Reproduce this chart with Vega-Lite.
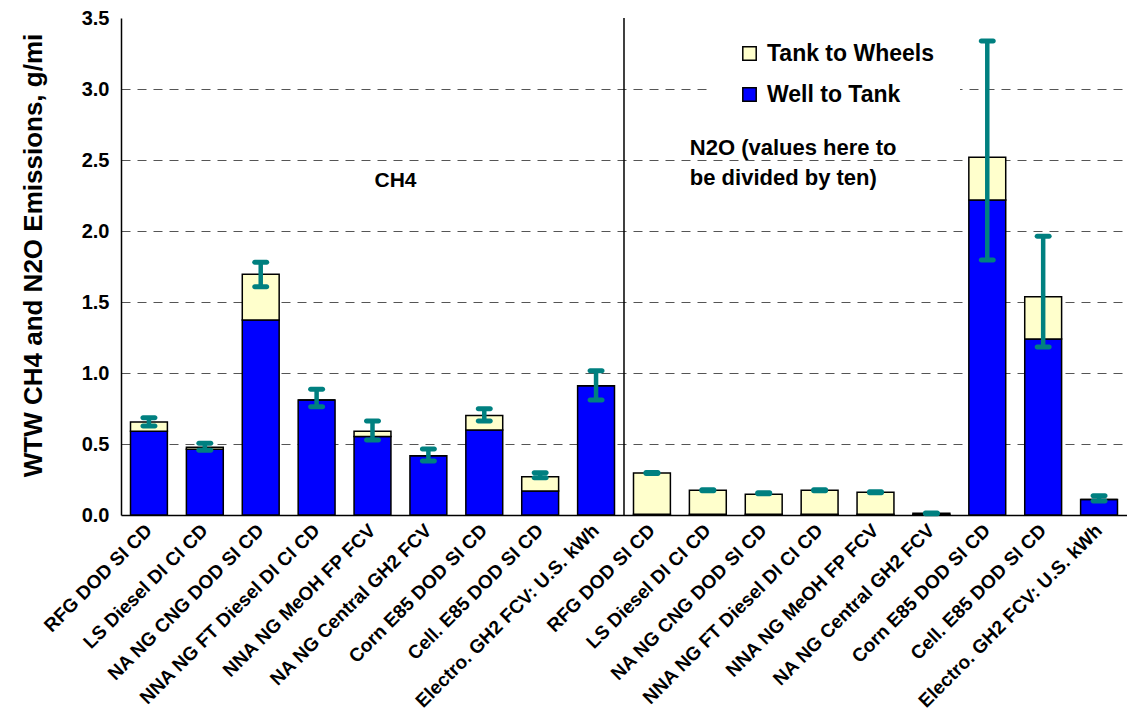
{
  "$schema": "https://vega.github.io/schema/vega-lite/v6.json",
  "width": 1006,
  "height": 497,
  "autosize": {"type": "none"},
  "padding": {"left": 121, "top": 18, "right": 0, "bottom": 206},
  "background": "white",
  "config": {
    "font": "Liberation Sans",
    "view": {"stroke": null}
  },
  "data": {
    "values": [
      {"key": "CH4|RFG DOD SI CD", "wtt": 0.59, "total": 0.655, "lo": 0.627, "hi": 0.685},
      {"key": "CH4|LS Diesel DI CI CD", "wtt": 0.463, "total": 0.477, "lo": 0.456, "hi": 0.505},
      {"key": "CH4|NA NG CNG DOD SI CD", "wtt": 1.373, "total": 1.695, "lo": 1.608, "hi": 1.78},
      {"key": "CH4|NNA NG FT Diesel DI CI CD", "wtt": 0.81, "total": 0.81, "lo": 0.763, "hi": 0.885},
      {"key": "CH4|NNA NG MeOH FP FCV", "wtt": 0.552, "total": 0.589, "lo": 0.528, "hi": 0.662},
      {"key": "CH4|NA NG Central GH2 FCV", "wtt": 0.418, "total": 0.418, "lo": 0.38, "hi": 0.465},
      {"key": "CH4|Corn E85 DOD SI CD", "wtt": 0.599, "total": 0.7, "lo": 0.662, "hi": 0.749},
      {"key": "CH4|Cell. E85 DOD SI CD", "wtt": 0.169, "total": 0.27, "lo": 0.263, "hi": 0.298},
      {"key": "CH4|Electro. GH2 FCV: U.S. kWh", "wtt": 0.911, "total": 0.911, "lo": 0.81, "hi": 1.016},
      {"key": "N2O|RFG DOD SI CD", "wtt": 0.005, "total": 0.296, "lo": 0.293, "hi": 0.299},
      {"key": "N2O|LS Diesel DI CI CD", "wtt": 0.005, "total": 0.174, "lo": 0.171, "hi": 0.177},
      {"key": "N2O|NA NG CNG DOD SI CD", "wtt": 0.005, "total": 0.146, "lo": 0.149, "hi": 0.156},
      {"key": "N2O|NNA NG FT Diesel DI CI CD", "wtt": 0.005, "total": 0.174, "lo": 0.17, "hi": 0.178},
      {"key": "N2O|NNA NG MeOH FP FCV", "wtt": 0.005, "total": 0.16, "lo": 0.156, "hi": 0.164},
      {"key": "N2O|NA NG Central GH2 FCV", "wtt": 0.003, "total": 0.012, "lo": 0.008, "hi": 0.014},
      {"key": "N2O|Corn E85 DOD SI CD", "wtt": 2.218, "total": 2.519, "lo": 1.796, "hi": 3.338},
      {"key": "N2O|Cell. E85 DOD SI CD", "wtt": 1.239, "total": 1.537, "lo": 1.183, "hi": 1.963},
      {"key": "N2O|Electro. GH2 FCV: U.S. kWh", "wtt": 0.11, "total": 0.11, "lo": 0.099, "hi": 0.136}
    ]
  },
  "encoding": {
    "x": {
      "field": "key",
      "type": "nominal",
      "sort": null,
      "scale": {"paddingInner": 0.34, "paddingOuter": 0.17},
      "axis": {
        "title": null,
        "labelExpr": "split(datum.label, '|')[1]",
        "labelAngle": -45,
        "labelAlign": "right",
        "labelBaseline": "middle",
        "labelFontSize": 19,
        "labelFontWeight": "bold",
        "labelColor": "black",
        "labelPadding": 12,
        "labelLimit": 400,
        "ticks": false,
        "domainColor": "black",
        "domainWidth": 1.5
      }
    }
  },
  "layer": [
    {
      "mark": {"type": "bar", "color": "#0000FF", "stroke": "black", "strokeWidth": 1.5},
      "encoding": {
        "y": {
          "field": "wtt",
          "type": "quantitative",
          "scale": {"domain": [0, 3.5], "nice": false},
          "axis": {
            "title": "WTW CH4 and N2O Emissions, g/mi",
            "titleFontSize": 26,
            "titleFontWeight": "bold",
            "titleColor": "black",
            "titlePadding": 35,
            "titleY": 237,
            "values": [0, 0.5, 1, 1.5, 2, 2.5, 3, 3.5],
            "format": ".1f",
            "labelFontSize": 20,
            "labelFontWeight": "bold",
            "labelColor": "black",
            "labelPadding": 12,
            "ticks": false,
            "domainColor": "black",
            "domainWidth": 1.5,
            "grid": true,
            "gridColor": "#555555",
            "gridDash": [9, 7],
            "gridWidth": 1.2,
            "gridOpacity": {"condition": {"test": "datum.value == 3.5 || datum.value == 0", "value": 0}, "value": 1}
          }
        },
        "y2": {"datum": 0},
        "color": {
          "datum": "Well to Tank",
          "scale": {"domain": ["Tank to Wheels", "Well to Tank"], "range": ["#FFFFCC", "#0000FF"]},
          "legend": {
            "title": null,
            "orient": "none",
            "legendX": 591,
            "legendY": -2,
            "padding": 26,
            "fillColor": "white",
            "symbolType": "square",
            "symbolSize": 180,
            "symbolStrokeColor": "black",
            "symbolStrokeWidth": 1.5,
            "symbolOpacity": 1,
            "labelFontSize": 23,
            "labelFontWeight": "bold",
            "labelColor": "black",
            "labelLimit": 300,
            "labelOffset": 6,
            "rowPadding": 17
          }
        }
      }
    },
    {
      "mark": {"type": "bar", "stroke": "black", "strokeWidth": 1.5},
      "encoding": {
        "y": {"field": "wtt", "type": "quantitative"},
        "y2": {"field": "total"},
        "color": {"datum": "Tank to Wheels"}
      }
    },
    {
      "mark": {"type": "rule", "color": "#008080", "strokeWidth": 4.5},
      "encoding": {
        "y": {"field": "lo", "type": "quantitative"},
        "y2": {"field": "hi"}
      }
    },
    {
      "mark": {"type": "tick", "color": "#008080", "size": 17, "thickness": 5, "cornerRadius": 2.5, "opacity": 1},
      "encoding": {"y": {"field": "lo", "type": "quantitative"}}
    },
    {
      "mark": {"type": "tick", "color": "#008080", "size": 17, "thickness": 5, "cornerRadius": 2.5, "opacity": 1},
      "encoding": {"y": {"field": "hi", "type": "quantitative"}}
    },
    {
      "transform": [{"filter": "datum.key == 'N2O|RFG DOD SI CD'"}],
      "mark": {"type": "rule", "color": "black", "strokeWidth": 1.5},
      "encoding": {
        "x": {"field": "key", "type": "nominal", "sort": null, "bandPosition": -0.2576},
        "y": {"datum": 0},
        "y2": {"datum": 3.5}
      }
    },
    {
      "data": {"values": [{}]},
      "mark": {"type": "text", "text": "CH4", "fontSize": 21, "fontWeight": "bold", "color": "black", "align": "center", "baseline": "middle", "dx": 23},
      "encoding": {
        "x": {"datum": "CH4|NNA NG MeOH FP FCV"},
        "y": {"datum": 2.354}
      }
    },
    {
      "data": {"values": [{}]},
      "mark": {"type": "text", "text": ["N2O (values here to", "be divided by ten)"], "lineHeight": 30, "fontSize": 22, "fontWeight": "bold", "color": "black", "align": "left", "baseline": "middle", "dx": -18},
      "encoding": {
        "x": {"datum": "N2O|LS Diesel DI CI CD"},
        "y": {"datum": 2.582}
      }
    }
  ]
}
